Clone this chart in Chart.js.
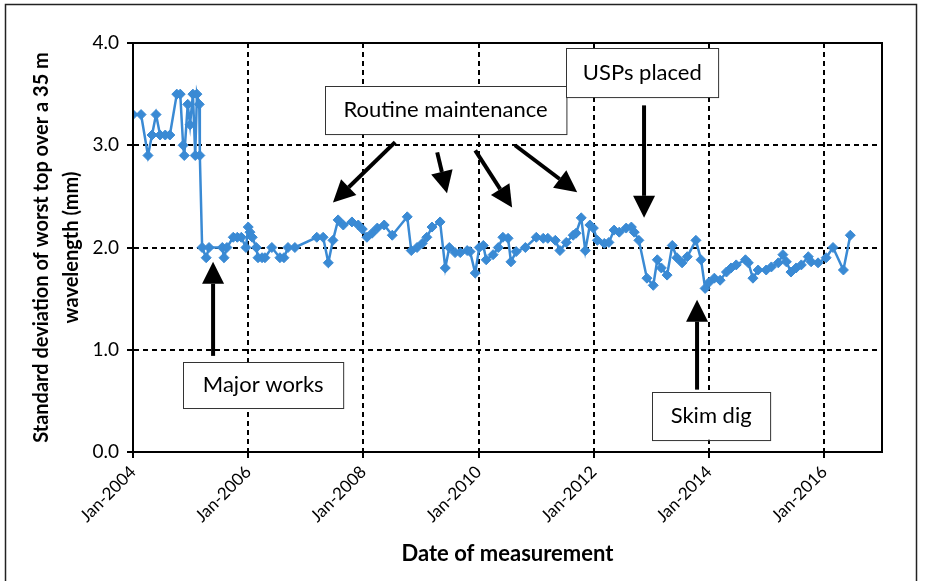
<!DOCTYPE html>
<html>
<head>
<meta charset="utf-8">
<script src="https://cdn.jsdelivr.net/npm/chart.js@4"></script>
<style>
  body { margin: 0; background: #fff; }
  #wrap { width: 934px; height: 581px; }
</style>
</head>
<body>
<div id="wrap"><canvas id="myChart" width="934" height="581"></canvas></div>
<script>
// measurement dates (decimal years) and values (mm)
var dates = [2004.00, 2004.14, 2004.26, 2004.33, 2004.40, 2004.47, 2004.56, 2004.64, 2004.76, 2004.82,
  2004.87, 2004.89, 2004.95, 2004.99, 2005.04, 2005.08, 2005.11, 2005.15, 2005.16, 2005.20,
  2005.27, 2005.32, 2005.55, 2005.58, 2005.63, 2005.74, 2005.81, 2005.88, 2005.96, 2006.00,
  2006.03, 2006.07, 2006.14, 2006.17, 2006.24, 2006.29, 2006.41, 2006.55, 2006.62, 2006.69,
  2006.81, 2007.19, 2007.30, 2007.39, 2007.47, 2007.56, 2007.65, 2007.80, 2007.91, 2007.98,
  2008.06, 2008.15, 2008.24, 2008.36, 2008.50, 2008.76, 2008.83, 2008.93, 2009.02, 2009.10,
  2009.19, 2009.33, 2009.42, 2009.49, 2009.59, 2009.68, 2009.80, 2009.85, 2009.94, 2010.01,
  2010.08, 2010.13, 2010.25, 2010.34, 2010.42, 2010.51, 2010.56, 2010.65, 2010.81, 2011.00,
  2011.12, 2011.20, 2011.33, 2011.41, 2011.52, 2011.64, 2011.69, 2011.78, 2011.85, 2011.93,
  2011.99, 2012.06, 2012.18, 2012.26, 2012.35, 2012.44, 2012.56, 2012.65, 2012.70, 2012.78,
  2012.92, 2013.03, 2013.10, 2013.17, 2013.27, 2013.36, 2013.44, 2013.53, 2013.62, 2013.77,
  2013.86, 2013.93, 2014.00, 2014.09, 2014.19, 2014.30, 2014.38, 2014.47, 2014.63, 2014.68,
  2014.76, 2014.85, 2014.99, 2015.08, 2015.20, 2015.28, 2015.34, 2015.42, 2015.51, 2015.60,
  2015.72, 2015.77, 2015.89, 2016.03, 2016.15, 2016.33, 2016.45];
var values = [3.3, 3.3, 2.9, 3.1, 3.3, 3.1, 3.1, 3.1, 3.5, 3.5,
  3.0, 2.9, 3.4, 3.2, 3.5, 2.9, 3.5, 3.4, 2.9, 2.0,
  1.9, 2.0, 2.0, 1.9, 2.0, 2.1, 2.1, 2.1, 2.0, 2.2,
  2.15, 2.1, 2.0, 1.9, 1.9, 1.9, 2.0, 1.9, 1.9, 2.0,
  2.0, 2.1, 2.1, 1.85, 2.07, 2.27, 2.22, 2.25, 2.22, 2.18,
  2.1, 2.14, 2.19, 2.22, 2.12, 2.3, 1.97, 2.0, 2.04, 2.1,
  2.2, 2.25, 1.8, 2.0, 1.95, 1.95, 1.97, 1.96, 1.75, 2.0,
  2.02, 1.88, 1.93, 2.0, 2.1, 2.09, 1.86, 1.96, 2.0, 2.1,
  2.09, 2.09, 2.07, 1.97, 2.05, 2.12, 2.14, 2.29, 1.97, 2.22,
  2.19, 2.07, 2.04, 2.05, 2.17, 2.15, 2.19, 2.2, 2.15, 2.07,
  1.7, 1.63, 1.88, 1.8, 1.73, 2.02, 1.9, 1.85, 1.91, 2.07,
  1.88, 1.6, 1.66, 1.7, 1.68, 1.76, 1.8, 1.83, 1.88, 1.85,
  1.7, 1.78, 1.78, 1.81, 1.85, 1.93, 1.86, 1.76, 1.8, 1.83,
  1.91, 1.86, 1.85, 1.9, 2.0, 1.78, 2.12];
var xTickYears = [2004, 2006, 2008, 2010, 2012, 2014, 2016];
var yTickValues = [0, 1, 2, 3, 4];

// text boxes: label, x1, y1, x2, y2 in data units
var notes = [
  ["Routine maintenance", 2007.33, 3.58, 2011.52, 3.11],
  ["USPs placed", 2011.52, 3.95, 2014.16, 3.47],
  ["Major works", 2004.87, 0.88, 2007.65, 0.43],
  ["Skim dig", 2013.01, 0.59, 2015.06, 0.12]
];
// arrows: tail x, tail y, head x, head y in data units
var arrows = [
  [2005.39, 0.94, 2005.39, 1.86],
  [2012.87, 3.39, 2012.87, 2.29],
  [2013.79, 0.61, 2013.79, 1.49],
  [2008.55, 3.03, 2007.47, 2.44],
  [2009.28, 2.93, 2009.45, 2.53],
  [2009.94, 2.95, 2010.58, 2.39],
  [2010.63, 3.00, 2011.71, 2.54]
];

var blue = "#3a8ad4";

function drawArrow(ctx, x1, y1, x2, y2) {
  var ang = Math.atan2(y2 - y1, x2 - x1);
  var len = 22, half = 11;
  var bx = x2 - len * Math.cos(ang), by = y2 - len * Math.sin(ang);
  ctx.beginPath();
  ctx.lineWidth = 4;
  ctx.moveTo(x1, y1);
  ctx.lineTo(bx, by);
  ctx.stroke();
  ctx.beginPath();
  ctx.moveTo(x2, y2);
  ctx.lineTo(bx + half * Math.sin(ang), by - half * Math.cos(ang));
  ctx.lineTo(bx - half * Math.sin(ang), by + half * Math.cos(ang));
  ctx.closePath();
  ctx.fill();
}

var extras = {
  id: "extras",
  afterDraw: function (chart) {
    var ctx = chart.ctx, a = chart.chartArea;
    var xs = chart.scales.x, ys = chart.scales.y;
    ctx.save();
    // plot box
    ctx.strokeStyle = "#000";
    ctx.lineWidth = 2;
    ctx.strokeRect(a.left, a.top, a.right - a.left, a.bottom - a.top);
    // outer frame
    ctx.lineWidth = 1.5;
    ctx.strokeStyle = "#222";
    ctx.strokeRect(5.5, 4.5, 911, 620);
    // arrows
    ctx.strokeStyle = "#000";
    ctx.fillStyle = "#000";
    arrows.forEach(function (r) {
      drawArrow(ctx, xs.getPixelForValue(r[0]), ys.getPixelForValue(r[1]),
        xs.getPixelForValue(r[2]), ys.getPixelForValue(r[3]));
    });
    // boxes
    ctx.font = "22px Lato";
    ctx.textAlign = "center";
    ctx.textBaseline = "middle";
    notes.forEach(function (n) {
      var x1 = xs.getPixelForValue(n[1]), y1 = ys.getPixelForValue(n[2]);
      var x2 = xs.getPixelForValue(n[3]), y2 = ys.getPixelForValue(n[4]);
      ctx.fillStyle = "#fff";
      ctx.fillRect(x1, y1, x2 - x1, y2 - y1);
      ctx.lineWidth = 1;
      ctx.strokeStyle = "#333";
      ctx.strokeRect(Math.round(x1) + 0.5, Math.round(y1) + 0.5, x2 - x1, y2 - y1);
      ctx.fillStyle = "#000";
      ctx.fillText(n[0], (x1 + x2) / 2, (y1 + y2) / 2);
    });
    ctx.restore();
  }
};

new Chart("myChart", {
  type: "line",
  data: {
    datasets: [{
      data: dates.map(function (d, i) { return { x: d, y: values[i] }; }),
      borderColor: blue,
      backgroundColor: blue,
      borderWidth: 2.5,
      pointStyle: "rectRot",
      pointRadius: 5,
      pointBorderWidth: 1,
      tension: 0
    }]
  },
  options: {
    responsive: false,
    animation: false,
    layout: { padding: { top: 43, right: 52, left: 0, bottom: 0 } },
    plugins: { legend: { display: false }, tooltip: { enabled: false } },
    scales: {
      x: {
        type: "linear",
        min: 2004,
        max: 2017,
        afterFit: function (s) { s.height = 129; },
        afterBuildTicks: function (axis) {
          axis.ticks = xTickYears.map(function (v) { return { value: v }; });
        },
        ticks: {
          minRotation: 45,
          maxRotation: 45,
          autoSkip: false,
          color: "#000",
          padding: 4,
          font: { family: "Lato", size: 17 },
          callback: function (v) { return "Jan-" + v; }
        },
        grid: { color: "#000", lineWidth: 2, tickLength: 6, tickColor: "#000", tickBorderDash: [] },
        border: { color: "#000", width: 2, dash: [5, 4] },
        title: {
          display: true,
          text: "Date of measurement",
          color: "#000",
          font: { family: "Lato", size: 22, weight: "bold" },
          padding: { top: 0, bottom: 14 }
        }
      },
      y: {
        min: 0,
        max: 4,
        afterFit: function (s) { s.width = 133; },
        afterBuildTicks: function (axis) {
          axis.ticks = yTickValues.map(function (v) { return { value: v }; });
        },
        ticks: {
          color: "#000",
          padding: 8,
          font: { family: "Lato", size: 19 },
          callback: function (v) { return v.toFixed(1); }
        },
        grid: { color: "#000", lineWidth: 2, tickLength: 6, tickColor: "#000", tickBorderDash: [] },
        border: { color: "#000", width: 2, dash: [5, 4] },
        title: {
          display: true,
          text: ["Standard deviation of worst top over a 35 m", "wavelength (mm)"],
          color: "#000",
          font: { family: "Lato", size: 20, weight: "bold", lineHeight: 1.5 },
          padding: { top: 27, bottom: 0 }
        }
      }
    }
  },
  plugins: [extras]
});
</script>
</body>
</html>
